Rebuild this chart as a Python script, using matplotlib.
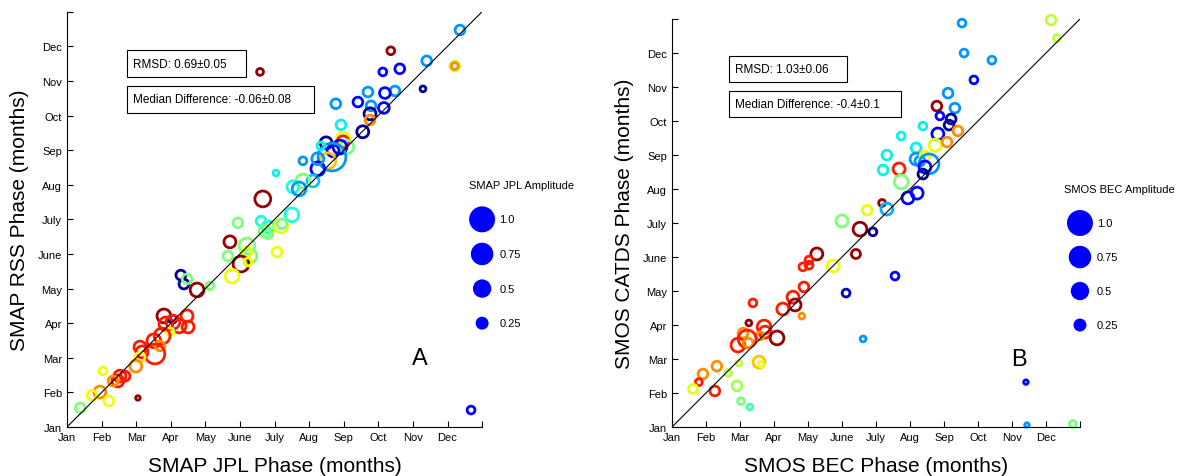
import numpy as np
import matplotlib
matplotlib.use('Agg')
import matplotlib.pyplot as plt
from matplotlib.patches import Rectangle

plt.rcParams['font.family'] = ['Liberation Sans', 'DejaVu Sans']

months = ['Jan', 'Feb', 'Mar', 'Apr', 'May', 'June', 'July', 'Aug', 'Sep', 'Oct', 'Nov', 'Dec']

# Panel A: SMAP JPL vs SMAP RSS phase (months), amplitude, colour index (jet)
jpl_phase = [5.58, 5.66, 6.82, 6.04, 11.36, 9.36, 10.40, 11.21, 11.21, 9.13,
             9.62, 10.29, 9.48, 8.70, 9.19, 7.77, 8.41, 9.16, 8.79, 8.76,
             8.76, 8.55, 7.92, 7.49, 7.98, 7.98, 8.09, 7.89, 7.69, 7.54,
             7.66, 7.34, 7.25, 7.25, 7.11, 6.82, 6.53, 6.71, 6.50, 4.94,
             5.61, 5.81, 5.72, 6.18, 6.21, 6.07, 4.71, 5.20, 5.29, 4.65,
             5.20, 5.03, 5.23, 4.77, 5.81, 3.29, 3.38, 3.47, 4.13, 3.76,
             2.80, 3.06, 3.47, 3.06, 2.86, 3.24, 3.50, 2.98, 2.75, 2.51,
             2.11, 2.69, 2.54, 2.17, 2.11, 1.99, 1.53, 1.68, 1.47, 1.33,
             1.04, 0.95, 0.72, 1.21, 2.05, 0.38, 11.68]
rss_phase = [10.26, 6.59, 7.69, 7.34, 11.47, 10.87, 10.58, 10.43, 10.43, 10.26,
             10.35, 9.77, 9.71, 9.68, 9.65, 9.34, 9.39, 9.22, 9.28, 9.05,
             8.87, 8.53, 8.73, 8.21, 8.32, 8.24, 8.09, 8.09, 7.98, 7.69,
             7.80, 8.12, 7.46, 7.75, 7.11, 7.11, 6.94, 6.88, 6.13, 5.90,
             5.95, 5.78, 5.66, 5.81, 5.87, 5.06, 5.35, 5.23, 4.94, 4.94,
             5.06, 4.71, 4.77, 4.36, 5.58, 4.39, 4.13, 4.28, 4.08, 3.96,
             3.21, 3.12, 3.21, 3.03, 2.98, 2.92, 2.89, 2.75, 2.63, 2.49,
             2.31, 2.34, 2.11, 2.17, 2.02, 1.76, 1.47, 1.47, 1.33, 1.33,
             1.62, 1.01, 0.92, 0.75, 0.84, 0.55, 0.49]
jpl_amp = [0.07, 0.37, 0.09, 0.05, 0.14, 0.09, 0.14, 0.14, 0.07, 0.09,
           0.14, 0.05, 0.14, 0.14, 0.17, 0.14, 0.14, 0.17, 0.14, 0.21,
           0.14, 0.21, 0.14, 0.21, 0.28, 0.21, 0.28, 0.28, 0.21, 0.37,
           1.14, 0.09, 0.28, 0.21, 0.21, 0.28, 0.21, 0.28, 0.28, 0.14,
           0.14, 0.21, 0.21, 0.28, 0.14, 0.14, 0.21, 0.37, 0.28, 0.14,
           0.14, 0.37, 0.09, 0.28, 0.14, 0.14, 0.14, 0.14, 0.09, 0.28,
           0.28, 0.09, 0.21, 0.28, 0.28, 0.28, 0.21, 0.09, 0.37, 0.28,
           0.21, 0.14, 0.58, 0.21, 0.14, 0.21, 0.21, 0.14, 0.21, 0.14,
           0.09, 0.21, 0.14, 0.14, 0.03, 0.14, 0.09]
jpl_col = [0.98, 0.98, 0.27, 0.36, 0.27, 0.98, 0.27, 0.58, 0.76, 0.13,
           0.13, 0.02, 0.27, 0.27, 0.13, 0.27, 0.13, 0.13, 0.27, 0.02,
           0.76, 0.02, 0.36, 0.02, 0.64, 0.88, 0.50, 0.13, 0.13, 0.70,
           0.27, 0.36, 0.13, 0.27, 0.32, 0.50, 0.38, 0.27, 0.38, 0.50,
           0.38, 0.38, 0.50, 0.63, 0.50, 0.64, 0.98, 0.50, 0.50, 0.50,
           0.64, 0.98, 0.64, 0.64, 0.50, 0.02, 0.02, 0.50, 0.50, 0.98,
           0.98, 0.02, 0.88, 0.88, 0.88, 0.88, 0.88, 0.64, 0.88, 0.88,
           0.88, 0.76, 0.88, 0.88, 0.64, 0.76, 0.88, 0.88, 0.88, 0.76,
           0.64, 0.76, 0.64, 0.64, 0.98, 0.50, 0.13]

# Panel B: SMOS BEC vs SMOS CATDS phase
bec_phase = [11.15, 11.32, 8.53, 8.59, 9.41, 8.88, 8.12, 7.79, 8.32, 7.88,
             8.21, 8.15, 8.41, 7.38, 6.74, 7.82, 7.74, 8.09, 6.32, 7.18,
             6.21, 7.18, 7.29, 7.44, 7.56, 7.44, 7.38, 6.68, 6.74, 7.21,
             6.94, 5.74, 6.18, 6.32, 5.00, 5.53, 5.91, 5.41, 4.74, 4.26,
             4.03, 4.03, 3.85, 3.88, 5.12, 3.56, 3.62, 3.26, 2.38, 3.82,
             5.62, 2.26, 2.71, 2.74, 3.09, 2.09, 2.59, 2.21, 1.94, 2.24,
             2.56, 2.62, 1.97, 1.32, 0.91, 1.65, 0.79, 1.91, 0.62, 1.26,
             2.03, 2.29, 6.56, 10.41, 10.44, 11.79]
catds_phase = [11.97, 11.44, 11.88, 11.00, 10.79, 10.21, 9.82, 9.44, 9.38, 9.15,
               9.06, 8.88, 8.71, 8.85, 8.56, 8.62, 8.29, 8.38, 8.00, 8.21,
               7.56, 7.88, 7.82, 7.97, 7.74, 7.65, 7.44, 7.59, 7.21, 6.88,
               6.74, 6.38, 6.59, 6.41, 6.06, 5.82, 5.74, 5.09, 4.74, 5.09,
               4.91, 4.76, 4.71, 4.12, 3.94, 3.82, 3.59, 3.47, 3.65, 3.26,
               2.59, 3.06, 2.94, 2.79, 2.62, 2.76, 2.68, 2.59, 2.41, 2.47,
               1.91, 1.85, 1.88, 1.79, 1.56, 1.59, 1.32, 1.21, 1.12, 1.06,
               0.76, 0.59, 4.44, 1.32, 0.06, 0.09]
bec_amp = [0.14, 0.07, 0.09, 0.09, 0.09, 0.09, 0.14, 0.14, 0.14, 0.09,
           0.14, 0.14, 0.14, 0.09, 0.09, 0.21, 0.21, 0.14, 0.14, 0.14,
           0.14, 0.21, 0.14, 0.14, 0.58, 0.21, 0.14, 0.21, 0.28, 0.21,
           0.21, 0.14, 0.07, 0.21, 0.21, 0.28, 0.09, 0.12, 0.21, 0.21,
           0.09, 0.09, 0.09, 0.14, 0.09, 0.21, 0.21, 0.21, 0.09, 0.05,
           0.05, 0.05, 0.28, 0.21, 0.28, 0.14, 0.09, 0.47, 0.28, 0.14,
           0.21, 0.05, 0.05, 0.14, 0.14, 0.07, 0.07, 0.14, 0.12, 0.14,
           0.07, 0.05, 0.09, 0.03, 0.03, 0.07]
bec_col = [0.58, 0.58, 0.27, 0.27, 0.27, 0.13, 0.27, 0.98, 0.27, 0.13,
           0.02, 0.02, 0.76, 0.36, 0.36, 0.13, 0.63, 0.76, 0.36, 0.36,
           0.36, 0.27, 0.27, 0.64, 0.27, 0.13, 0.02, 0.88, 0.50, 0.13,
           0.13, 0.63, 0.98, 0.30, 0.50, 0.98, 0.02, 0.98, 0.64, 0.98,
           0.88, 0.88, 0.88, 0.88, 0.06, 0.88, 0.98, 0.88, 0.88, 0.76,
           0.27, 0.98, 0.88, 0.88, 0.98, 0.76, 0.76, 0.88, 0.88, 0.76,
           0.70, 0.64, 0.58, 0.76, 0.76, 0.57, 0.88, 0.55, 0.63, 0.88,
           0.50, 0.44, 0.13, 0.13, 0.27, 0.50]

legend_amp = [1.0, 0.75, 0.5, 0.25]
legend_lab = ['1.0', '0.75', '0.5', '0.25']

SIZE = 350  # marker area (pt^2) for amplitude 1


def panel(ax, x, y, amp, col, xlabel, ylabel, legtitle, rmsd, mdiff, letter):
    colors = plt.cm.jet(np.array(col))
    ax.scatter(x, y, s=SIZE * np.array(amp), facecolors='none',
               edgecolors=colors, linewidths=2.0, clip_on=False, zorder=2)
    ax.plot([0, 12], [0, 12], color='black', lw=0.8, zorder=3)

    ax.set_xlim(0, 12)
    ax.set_ylim(0, 12)
    ax.set_xticks(range(13))
    ax.set_yticks(range(13))
    ax.set_xticklabels(months + [''])
    ax.set_yticklabels(months + [''])
    ax.tick_params(direction='in', length=4, labelsize=8, width=0.8)
    ax.spines['top'].set_visible(False)
    ax.spines['right'].set_visible(False)
    ax.set_xlabel(xlabel, fontsize=15, labelpad=10)
    ax.set_ylabel(ylabel, fontsize=15, labelpad=6)

    # amplitude legend
    ly = [6, 5, 4, 3]
    ax.scatter([12] * 4, ly, s=SIZE * np.array(legend_amp), color='blue',
               linewidths=0, clip_on=False)
    for yy, lab in zip(ly, legend_lab):
        ax.text(12.5, yy, lab, fontsize=8, va='center', ha='left')
    ax.text(13.15, 7.0, legtitle, fontsize=8, va='center', ha='center')

    # statistics boxes
    b1, b2 = rmsd[1], mdiff[1]
    ax.add_patch(Rectangle((b1[0], b1[1]), b1[2], b1[3], fc='white', ec='black',
                           lw=0.8, clip_on=False, zorder=4))
    ax.add_patch(Rectangle((b2[0], b2[1]), b2[2], b2[3], fc='white', ec='black',
                           lw=0.8, clip_on=False, zorder=4))
    ax.text(b1[0] + 0.18, b1[1] + b1[3] / 2, rmsd[0], fontsize=8.5, va='center', zorder=5)
    ax.text(b2[0] + 0.18, b2[1] + b2[3] / 2, mdiff[0], fontsize=8.5, va='center', zorder=5)

    ax.text(10.2, 2.0, letter, fontsize=17, ha='center', va='center')


fig = plt.figure(figsize=(11.86, 4.77), dpi=100)
ax1 = fig.add_axes([0.0565, 0.1027, 0.35, 0.8707])
ax2 = fig.add_axes([0.5666, 0.1027, 0.344, 0.8553])

panel(ax1, jpl_phase, rss_phase, jpl_amp, jpl_col,
      'SMAP JPL Phase (months)', 'SMAP RSS Phase (months)', 'SMAP JPL Amplitude',
      ('RMSD: 0.69\u00b10.05', (1.73, 10.1, 3.44, 0.8)),
      ('Median Difference: -0.06\u00b10.08', (1.73, 9.08, 5.41, 0.78)), 'A')
panel(ax2, bec_phase, catds_phase, bec_amp, bec_col,
      'SMOS BEC Phase (months)', 'SMOS CATDS Phase (months)', 'SMOS BEC Amplitude',
      ('RMSD: 1.03\u00b10.06', (1.68, 10.15, 3.47, 0.76)),
      ('Median Difference: -0.4\u00b10.1', (1.68, 9.12, 5.06, 0.76)), 'B')

fig.savefig('out.png', dpi=100)
